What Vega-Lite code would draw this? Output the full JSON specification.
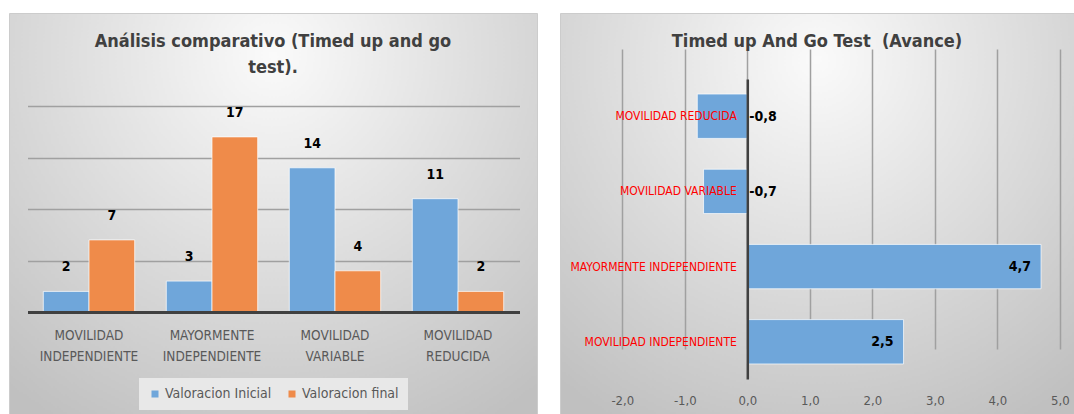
{
  "$schema": "https://vega.github.io/schema/vega-lite/v6.json",
  "padding": {"left": 8, "top": 12, "right": 0, "bottom": 0},
  "background": "white",
  "spacing": 21,
  "config": {
    "font": "DejaVu Sans Condensed, Liberation Sans, sans-serif",
    "locale": {"number": {"decimal": ",", "thousands": ".", "grouping": [3], "currency": ["", " €"], "minus": "-"}},
    "view": {
      "stroke": "#cccccc",
      "fill": {"gradient": "radial", "x1": 0.5, "y1": 0.2, "r1": 0, "x2": 0.5, "y2": 0.2, "r2": 0.8,
        "stops": [{"offset": 0, "color": "#fafafa"}, {"offset": 1, "color": "#c0c0c0"}]}
    },
    "title": {"fontSize": 18, "fontWeight": "bold", "color": "#404040", "lineHeight": 26, "anchor": "middle"}
  },
  "datasets": {
    "comparativo": [
      {"cat": "MOVILIDAD INDEPENDIENTE", "serie": "Valoracion Inicial", "valor": 2},
      {"cat": "MOVILIDAD INDEPENDIENTE", "serie": "Valoracion final", "valor": 7},
      {"cat": "MAYORMENTE INDEPENDIENTE", "serie": "Valoracion Inicial", "valor": 3},
      {"cat": "MAYORMENTE INDEPENDIENTE", "serie": "Valoracion final", "valor": 17},
      {"cat": "MOVILIDAD VARIABLE", "serie": "Valoracion Inicial", "valor": 14},
      {"cat": "MOVILIDAD VARIABLE", "serie": "Valoracion final", "valor": 4},
      {"cat": "MOVILIDAD REDUCIDA", "serie": "Valoracion Inicial", "valor": 11},
      {"cat": "MOVILIDAD REDUCIDA", "serie": "Valoracion final", "valor": 2}
    ],
    "avance": [
      {"cat": "MOVILIDAD REDUCIDA", "avance": -0.8},
      {"cat": "MOVILIDAD VARIABLE", "avance": -0.7},
      {"cat": "MAYORMENTE INDEPENDIENTE", "avance": 4.7},
      {"cat": "MOVILIDAD INDEPENDIENTE", "avance": 2.5}
    ]
  },
  "hconcat": [
    {
      "width": 528,
      "height": 402,
      "title": {"text": ["Análisis comparativo (Timed up and go", "test)."], "offset": -64},
      "data": {"name": "comparativo"},
      "encoding": {
        "x": {
          "field": "cat", "type": "nominal",
          "sort": ["MOVILIDAD INDEPENDIENTE", "MAYORMENTE INDEPENDIENTE", "MOVILIDAD VARIABLE", "MOVILIDAD REDUCIDA"],
          "scale": {"range": [18.5, 510.5], "paddingInner": 0.257, "paddingOuter": 0.1285},
          "axis": {"title": null, "orient": "bottom", "offset": -103, "ticks": false, "domain": true,
            "domainColor": "#404040", "domainWidth": 3, "labelExpr": "split(datum.label, ' ')",
            "labelFontSize": 13.5, "labelColor": "#595959", "labelPadding": 16, "labelLineHeight": 21,
            "labelAngle": 0, "zindex": 1}
        },
        "xOffset": {"field": "serie", "type": "nominal", "sort": ["Valoracion Inicial", "Valoracion final"]},
        "y": {
          "field": "valor", "type": "quantitative",
          "scale": {"domain": [0, 20], "range": [299, 93], "nice": false},
          "axis": {"title": null, "values": [5, 10, 15, 20], "labels": false, "ticks": false, "domain": false,
            "grid": true, "gridColor": "#a0a0a0", "gridWidth": 1.5}
        }
      },
      "layer": [
        {
          "mark": {"type": "bar", "stroke": "#ffffff", "strokeWidth": 1, "strokeOpacity": 0.7},
          "encoding": {
            "color": {
              "field": "serie", "type": "nominal",
              "scale": {"domain": ["Valoracion Inicial", "Valoracion final"], "range": ["#6fa6da", "#ef8b4a"]},
              "legend": {"orient": "none", "legendX": 130, "legendY": 365, "direction": "horizontal", "title": null,
                "fillColor": "#e8e8e8", "padding": 9, "symbolType": "square", "symbolSize": 49, "labelOffset": 3,
                "labelFontSize": 14, "labelColor": "#595959", "symbolStrokeWidth": 0, "columnPadding": 13}
            }
          }
        },
        {
          "mark": {"type": "text", "baseline": "bottom", "dy": -17, "fontSize": 14, "fontWeight": "bold", "color": "#000000"},
          "encoding": {"text": {"field": "valor", "type": "quantitative"}}
        }
      ]
    },
    {
      "width": 514,
      "height": 402,
      "title": {"text": "Timed up And Go Test \u00a0(Avance)", "offset": -38},
      "data": {"name": "avance"},
      "encoding": {
        "y": {
          "field": "cat", "type": "nominal",
          "sort": ["MOVILIDAD REDUCIDA", "MOVILIDAD VARIABLE", "MAYORMENTE INDEPENDIENTE", "MOVILIDAD INDEPENDIENTE"],
          "scale": {"range": [66, 366], "paddingInner": 0.41, "paddingOuter": 0.2},
          "axis": {"title": null, "offset": -187.3, "ticks": false, "domainColor": "#404040", "domainWidth": 2.5,
            "labelColor": "#ff0000", "labelFontSize": 12, "labelPadding": 11, "labelLimit": 400, "zindex": 1}
        },
        "x": {
          "field": "avance", "type": "quantitative",
          "scale": {"domain": [-2, 5], "range": [62.3, 499.8], "nice": false},
          "axis": {"title": null, "values": [-2, -1, 0, 1, 2, 3, 4, 5], "format": ".1f", "offset": -36,
            "domain": false, "ticks": false, "labelFlush": false, "labelFontSize": 13, "labelColor": "#595959", "labelPadding": 15,
            "grid": true, "gridColor": "#a0a0a0", "gridWidth": 1.5}
        }
      },
      "layer": [
        {"mark": {"type": "bar", "color": "#6fa6da", "stroke": "#ffffff", "strokeWidth": 1, "strokeOpacity": 0.7}},
        {
          "transform": [{"filter": "datum.avance < 0"}],
          "mark": {"type": "text", "align": "left", "dx": 2, "dy": 1, "fontSize": 14, "fontWeight": "bold", "color": "#000000"},
          "encoding": {"x": {"datum": 0, "type": "quantitative"}, "text": {"field": "avance", "type": "quantitative", "format": ".1f"}}
        },
        {
          "transform": [{"filter": "datum.avance >= 0"}],
          "mark": {"type": "text", "align": "right", "dx": -10, "fontSize": 14, "fontWeight": "bold", "color": "#000000"},
          "encoding": {"text": {"field": "avance", "type": "quantitative", "format": ".1f"}}
        }
      ]
    }
  ]
}
